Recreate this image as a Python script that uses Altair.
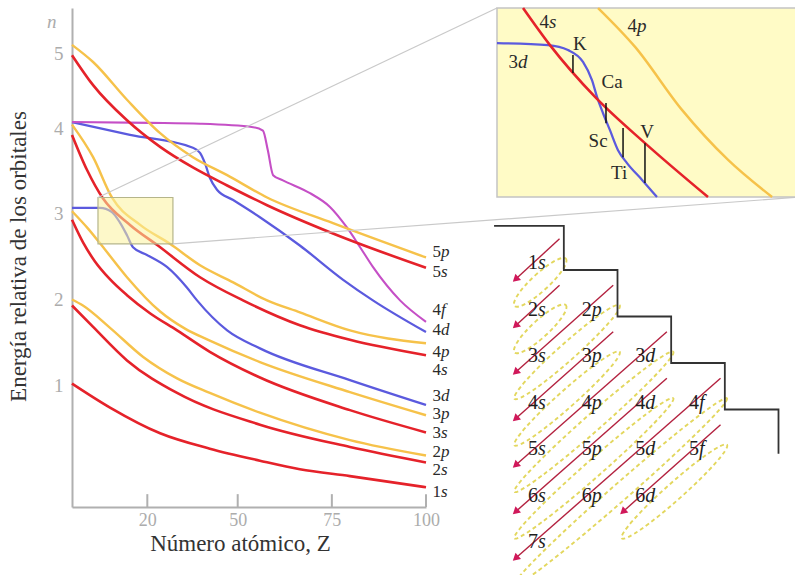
import math
import altair as alt
import pandas as pd

SERIF = "Liberation Serif"
RED, ORANGE, BLUE, MAGENTA = "#e5222a", "#f6c24a", "#5b5ade", "#c54fc6"

# ---------------- orbital energies: Z = atomic number, E = relative energy (n units) ----------------
z_1s = [6, 16.1, 29.4, 42.6, 55.9, 66.5, 79.8, 100]
e_1s = [1.02, 0.74, 0.44, 0.26, 0.12, 0.02, -0.06, -0.19]

z_2s = [6, 11.6, 20.6, 33.9, 55.9, 79.8, 100]
e_2s = [1.93, 1.68, 1.29, 0.91, 0.54, 0.28, 0.10]

z_2p = [6, 8.9, 16.1, 24.9, 33.9, 42.6, 55.9, 79.8, 100]
e_2p = [2.00, 1.93, 1.67, 1.33, 1.08, 0.91, 0.68, 0.36, 0.18]

z_3s = [6, 9.0, 12.0, 16.0, 20.6, 26.7, 33.9, 42.6, 55.9, 79.8, 100]
e_3s = [2.93, 2.66, 2.45, 2.24, 2.05, 1.84, 1.64, 1.39, 1.09, 0.71, 0.45]

z_3p = [6, 10.2, 14.8, 20.6, 29.4, 36.0, 42.6, 55.9, 79.8, 100]
e_3p = [3.03, 2.83, 2.58, 2.26, 1.86, 1.66, 1.52, 1.27, 0.92, 0.65]

z_3d = [6, 13.4, 16.6, 18.7, 20.6, 22.2, 25.9, 31.2, 36.5, 39.2, 47.2, 55.9, 79.8, 100]
e_3d = [3.07, 3.07, 3.02, 2.90, 2.75, 2.61, 2.52, 2.38, 2.14, 1.99, 1.64, 1.43, 1.06, 0.77]

z_4s = [6, 10.0, 14.2, 21.4, 28.8, 40.0, 51.4, 66.5, 79.8, 100]
e_4s = [3.92, 3.51, 3.18, 2.87, 2.63, 2.26, 1.99, 1.70, 1.53, 1.35]

z_4p = [6, 11.6, 16.6, 24.1, 32.0, 40.0, 48.8, 57.8, 66.5, 79.8, 100]
e_4p = [4.04, 3.66, 3.19, 2.87, 2.65, 2.40, 2.20, 1.99, 1.85, 1.64, 1.49]

z_4d = [6, 21.4, 38.1, 40.0, 41.3, 42.6, 44.5, 48.8, 55.9, 66.5, 78.0, 85.9, 100]
e_4d = [4.07, 3.92, 3.77, 3.71, 3.59, 3.42, 3.28, 3.16, 2.96, 2.63, 2.23, 1.99, 1.62]

z_4f = [6, 26.7, 40.0, 54.1, 56.7, 58.0, 59.4, 62.0, 69.2, 74.5, 79.0, 82.5, 85.9, 93.1, 100]
e_4f = [4.07, 4.06, 4.05, 4.01, 3.97, 3.74, 3.45, 3.39, 3.24, 3.08, 2.84, 2.61, 2.38, 1.99, 1.74]

z_5s = [6, 11.6, 20.6, 29.4, 38.1, 47.2, 57.8, 75.3, 100]
e_5s = [4.85, 4.50, 4.09, 3.78, 3.54, 3.33, 3.10, 2.77, 2.37]

z_5p = [6, 11.6, 20.6, 29.4, 38.1, 47.2, 57.8, 75.3, 100]
e_5p = [4.97, 4.77, 4.33, 3.94, 3.66, 3.45, 3.19, 2.89, 2.49]

# labels at the right-hand end of the curves
end_label_orbitals = ["5p", "5s", "4f", "4d", "4p", "4s", "3d", "3p", "3s", "2p", "2s", "1s"]
end_label_E = [2.55, 2.32, 1.88, 1.64, 1.39, 1.18, 0.88, 0.67, 0.44, 0.22, 0.01, -0.25]

# axes
x_tick_values = [26, 50, 75, 100]
x_tick_labels = ["20", "50", "75", "100"]
y_tick_values = [1, 2, 3, 4, 4.87, 5.24]
y_tick_labels = ["1", "2", "3", "4", "5", "n"]

# region magnified in the inset
zoom_Z = [12.9, 32.8]
zoom_E = [2.65, 3.19]

# ---------------- magnified view of the 3d / 4s crossing ----------------
inset_z_4s = [14.61, 16.38, 19.34, 22.62, 26.76]
inset_e_4s = [3.19, 3.084, 2.936, 2.804, 2.65]
inset_z_4p = [19.54, 21.97, 25.05, 28.08, 30.97]
inset_e_4p = [3.19, 3.079, 2.899, 2.756, 2.65]
inset_z_3d = [12.9, 16.25, 17.56, 18.55, 19.14, 19.47, 19.86, 20.32, 20.85, 21.44, 22.43, 23.41]
inset_e_3d = [3.09, 3.084, 3.07, 3.036, 2.984, 2.936, 2.89, 2.841, 2.784, 2.747, 2.699, 2.65]

element_names = ["K", "Ca", "Sc", "V"]
element_Z = [17.89, 20.06, 21.18, 22.62]
element_E_low = [3.004, 2.861, 2.764, 2.69]
element_E_high = [3.056, 2.919, 2.847, 2.804]

inset_text = ["K", "Ca", "Sc", "Ti", "V"]
inset_text_Z = [18.35, 20.46, 19.54, 20.92, 22.76]
inset_text_E = [3.087, 2.979, 2.81, 2.719, 2.836]

inset_orb_labels = ["4s", "4p", "3d"]
inset_orb_Z = [16.25, 22.03, 14.21]
inset_orb_E = [3.15, 3.139, 3.036]

# ---------------- filling-order diagram ----------------
diag_orbitals = ["1s", "2s", "2p", "3s", "3p", "3d", "4s", "4p", "4d", "4f",
                 "5s", "5p", "5d", "5f", "6s", "6p", "6d", "7s"]
stair_col = [-0.8, 0.5, 0.5, 1.5, 1.5, 2.5, 2.5, 3.5, 3.5, 4.5, 4.5]
stair_row = [0.2, 0.2, 1.15, 1.15, 2.15, 2.15, 3.15, 3.15, 4.15, 4.15, 5.1]

# ---------------- layout ----------------
PLOT_W, PLOT_H = 354, 499
Z_DOMAIN = [6, 100]
E_DOMAIN = [-0.42, 5.40]


def px_x(z):
    return (z - Z_DOMAIN[0]) / (Z_DOMAIN[1] - Z_DOMAIN[0]) * PLOT_W


def px_y(e):
    return (E_DOMAIN[1] - e) / (E_DOMAIN[1] - E_DOMAIN[0]) * PLOT_H


# the inset panel's corners, in the main chart's units
INSET_Z = [118.85, 199.3]
INSET_E = [3.195, 5.40]

DIAG_X_RANGE = [465, 626]   # columns s..f
DIAG_Y_RANGE = [255, 534]   # rows n = 1..7
CELL_W = (DIAG_X_RANGE[1] - DIAG_X_RANGE[0]) / 3
CELL_H = (DIAG_Y_RANGE[1] - DIAG_Y_RANGE[0]) / 6

main_x = alt.Scale(domain=Z_DOMAIN, nice=False, zero=False)
main_y = alt.Scale(domain=E_DOMAIN, nice=False, zero=False)
inset_x = alt.Scale(domain=zoom_Z, range=[px_x(INSET_Z[0]), px_x(INSET_Z[1])], nice=False, zero=False)
inset_y = alt.Scale(domain=zoom_E, range=[px_y(INSET_E[0]), px_y(INSET_E[1])], nice=False, zero=False)
diag_x = alt.Scale(domain=[0, 3], range=DIAG_X_RANGE, nice=False, zero=False)
diag_y = alt.Scale(domain=[1, 7], range=DIAG_Y_RANGE, nice=False, zero=False)

kind_color = alt.Scale(domain=["s", "p", "d", "f"], range=[RED, ORANGE, BLUE, MAGENTA])
kind_width = alt.Scale(domain=["s", "p", "d", "f"], range=[2.6, 2.1, 1.6, 1.6])


def label_expr(values, labels):
    expr = "datum.label"
    for v, t in reversed(list(zip(values, labels))):
        expr = f"abs(datum.value - {v}) < 1e-6 ? '{t}' : ({expr})"
    return expr


def enc(field, scale):
    return alt.X(field, type="quantitative", scale=scale, axis=None)


def enc_y(field, scale):
    return alt.Y(field, type="quantitative", scale=scale, axis=None)


def split_text(df, xs, ys, dx, size, color="#2a2a2a"):
    """Orbital label: upright digit followed by italic letter."""
    base = alt.Chart(df).encode(x=enc("X", xs), y=enc_y("Y", ys))
    digit = base.mark_text(align="right", baseline="middle", dx=dx, font=SERIF,
                           fontSize=size, color=color).encode(text="digit:N")
    letter = base.mark_text(align="left", baseline="middle", dx=dx, font=SERIF,
                            fontSize=size, fontStyle="italic", color=color).encode(text="letter:N")
    return [digit, letter]


# ---------------- main chart ----------------
series = {"1s": (z_1s, e_1s), "2s": (z_2s, e_2s), "2p": (z_2p, e_2p), "3s": (z_3s, e_3s),
          "3p": (z_3p, e_3p), "3d": (z_3d, e_3d), "4s": (z_4s, e_4s), "4p": (z_4p, e_4p),
          "4d": (z_4d, e_4d), "4f": (z_4f, e_4f), "5s": (z_5s, e_5s), "5p": (z_5p, e_5p)}
curve_rows = []
for orb, (zs, es) in series.items():
    for z, e in zip(zs, es):
        curve_rows.append({"orb": orb, "kind": orb[1], "Z": z, "E": e})
curves_df = pd.DataFrame(curve_rows)

x_axis = alt.Axis(
    values=x_tick_values, labelExpr=label_expr(x_tick_values, x_tick_labels),
    title="Número atómico, Z", titleFont=SERIF, titleFontSize=23, titleFontWeight="normal",
    titleColor="#333333", titleX=168, titleY=36, titleAlign="center", titleBaseline="middle",
    labelFont=SERIF, labelFontSize=18, labelColor="#acacac", labelPadding=4,
    ticks=False, grid=False, domainColor="#b0b0b0", domainWidth=2,
    labelOverlap=False, labelBound=False, labelFlush=False,
)
y_axis = alt.Axis(
    values=y_tick_values, labelExpr=label_expr(y_tick_values, y_tick_labels),
    title="Energía relativa de los orbitales", titleFont=SERIF, titleFontSize=23,
    titleFontWeight="normal", titleColor="#333333", titleX=-54, titleY=248,
    titleAlign="center", titleBaseline="middle",
    labelFont=SERIF, labelFontSize=19, labelColor="#acacac",
    labelFontStyle={"condition": {"test": "datum.value > 5", "value": "italic"}, "value": "normal"},
    labelPadding={"condition": {"test": "datum.value > 5", "value": 16}, "value": 9},
    ticks=False, grid=False, domainColor="#b0b0b0", domainWidth=2,
    labelOverlap=False, labelBound=False, labelFlush=False,
)

curves = alt.Chart(curves_df).mark_line(interpolate="monotone").encode(
    x=alt.X("Z:Q", scale=main_x, axis=x_axis),
    y=alt.Y("E:Q", scale=main_y, axis=y_axis),
    detail="orb:N",
    color=alt.Color("kind:N", scale=kind_color, legend=None),
    strokeWidth=alt.StrokeWidth("kind:N", scale=kind_width, legend=None),
)

ticks_df = pd.DataFrame({"Z": x_tick_values, "E0": E_DOMAIN[0], "E1": E_DOMAIN[0] + 0.15})
x_ticks = alt.Chart(ticks_df).mark_rule(color="#b0b0b0", strokeWidth=2).encode(
    x=enc("Z", main_x), y=enc_y("E0", main_y), y2="E1")

end_df = pd.DataFrame({"X": 100, "Y": end_label_E,
                       "digit": [o[0] for o in end_label_orbitals],
                       "letter": [o[1] for o in end_label_orbitals]})
end_labels = split_text(end_df, main_x, main_y, dx=15, size=17)

zoom_df = pd.DataFrame({"Z0": [zoom_Z[0]], "Z1": [zoom_Z[1]], "E0": [zoom_E[0]], "E1": [zoom_E[1]]})
zoom_box = alt.Chart(zoom_df).mark_rect(fill="#fbf39c", fillOpacity=0.55, stroke="#b5b58a",
                                        strokeWidth=1.2).encode(
    x=enc("Z0", main_x), x2="Z1", y=enc_y("E0", main_y), y2="E1")

conn_df = pd.DataFrame({"Z0": [zoom_Z[0], zoom_Z[1]], "E0": [zoom_E[1], zoom_E[0]],
                        "Z1": [INSET_Z[0], INSET_Z[1]], "E1": [INSET_E[1], INSET_E[0]]})
connectors = alt.Chart(conn_df).mark_rule(color="#c9c9c9", strokeWidth=1.2).encode(
    x=enc("Z0", main_x), x2="Z1", y=enc_y("E0", main_y), y2="E1")

main_layers = [curves, x_ticks, *end_labels, zoom_box, connectors]

# ---------------- inset ----------------
inset_bg = alt.Chart(zoom_df).mark_rect(fill="#fffbc6", stroke="#c4c4c4", strokeWidth=1.5).encode(
    x=enc("Z0", inset_x), x2="Z1", y=enc_y("E0", inset_y), y2="E1")

inset_rows = []
for orb, zs, es in [("4p", inset_z_4p, inset_e_4p), ("3d", inset_z_3d, inset_e_3d),
                    ("4s", inset_z_4s, inset_e_4s)]:
    for z, e in zip(zs, es):
        inset_rows.append({"orb": orb, "kind": orb[1], "Z": z, "E": e})
inset_lines = alt.Chart(pd.DataFrame(inset_rows)).mark_line(interpolate="monotone").encode(
    x=enc("Z", inset_x), y=enc_y("E", inset_y), detail="orb:N",
    color=alt.Color("kind:N", scale=kind_color, legend=None),
    strokeWidth=alt.StrokeWidth("kind:N", scale=kind_width, legend=None),
)

elem_df = pd.DataFrame({"el": element_names, "Z": element_Z, "E0": element_E_low, "E1": element_E_high})
elem_ticks = alt.Chart(elem_df).mark_rule(color="#111111", strokeWidth=1.5).encode(
    x=enc("Z", inset_x), y=enc_y("E0", inset_y), y2="E1")

itext_df = pd.DataFrame({"t": inset_text, "Z": inset_text_Z, "E": inset_text_E})
inset_words = alt.Chart(itext_df).mark_text(font=SERIF, fontSize=19, color="#2a2a2a",
                                            align="center", baseline="middle").encode(
    x=enc("Z", inset_x), y=enc_y("E", inset_y), text="t:N")

iorb_df = pd.DataFrame({"X": inset_orb_Z, "Y": inset_orb_E,
                        "digit": [o[0] for o in inset_orb_labels],
                        "letter": [o[1] for o in inset_orb_labels]})
inset_orbs = split_text(iorb_df, inset_x, inset_y, dx=1, size=19)

inset_layers = [inset_bg, inset_lines, elem_ticks, inset_words, *inset_orbs]

# ---------------- filling-order diagram ----------------
cells = pd.DataFrame({
    "X": ["spdf".index(o[1]) for o in diag_orbitals],
    "Y": [int(o[0]) for o in diag_orbitals],
    "digit": [o[0] for o in diag_orbitals],
    "letter": [o[1] for o in diag_orbitals],
})
cells["k"] = cells["X"] + cells["Y"]

arrow_rows = []
for k in sorted(cells["k"].unique()):
    grp = cells[cells["k"] == k]
    top = grp.loc[grp["X"].idxmax()]
    bot = grp.loc[grp["X"].idxmin()]
    c0, r0 = top["X"] + 0.42, top["Y"] - 0.52
    c1, r1 = bot["X"] - 0.40, bot["Y"] + 0.35
    dxp, dyp = (c1 - c0) * CELL_W, (r1 - r0) * CELL_H
    length = math.hypot(dxp, dyp)
    a = (length / 2 + 5) / 10.0
    b = 0.85
    kk = 0.5523
    path = (f"M {a:.3f} 0 C {a:.3f} {kk*b:.3f} {kk*a:.3f} {b:.3f} 0 {b:.3f} "
            f"C {-kk*a:.3f} {b:.3f} {-a:.3f} {kk*b:.3f} {-a:.3f} 0 "
            f"C {-a:.3f} {-kk*b:.3f} {-kk*a:.3f} {-b:.3f} 0 {-b:.3f} "
            f"C {kk*a:.3f} {-b:.3f} {a:.3f} {-kk*b:.3f} {a:.3f} 0 Z")
    arrow_rows.append({
        "c0": c0, "r0": r0, "c1": c1, "r1": r1,
        "head_angle": math.degrees(math.atan2(dxp, -dyp)) % 360,
        "ell_angle": math.degrees(math.atan2(-dyp, -dxp)) % 360,
        "ec": (c0 + c1) / 2 + 0.05, "er": (r0 + r1) / 2 + 0.5,
        "path": path,
    })
arrows_df = pd.DataFrame(arrow_rows)

ellipses = alt.Chart(arrows_df).mark_point(filled=False, strokeDash=[4, 3], strokeWidth=1.9,
                                           color="#e3d75e", size=400, opacity=1).encode(
    x=enc("ec", diag_x), y=enc_y("er", diag_y),
    shape=alt.Shape("path:N", scale=None),
    angle=alt.Angle("ell_angle:Q", scale=None),
)
arrow_lines = alt.Chart(arrows_df).mark_rule(color="#b3213f", strokeWidth=1.4).encode(
    x=enc("c0", diag_x), y=enc_y("r0", diag_y), x2="c1", y2="r1")
arrow_heads = alt.Chart(arrows_df).mark_point(shape="triangle-up", filled=True, size=70,
                                              color="#d0185a", opacity=1).encode(
    x=enc("c1", diag_x), y=enc_y("r1", diag_y),
    angle=alt.Angle("head_angle:Q", scale=None),
)
stair_df = pd.DataFrame({"col": stair_col, "row": stair_row, "i": range(len(stair_col))})
stairs = alt.Chart(stair_df).mark_line(color="#333333", strokeWidth=1.8).encode(
    x=enc("col", diag_x), y=enc_y("row", diag_y), order="i:Q")
cell_labels = split_text(cells, diag_x, diag_y, dx=1, size=20, color="#1e1e1e")

diagram_layers = [ellipses, arrow_lines, arrow_heads, stairs, *cell_labels]

chart = alt.layer(*main_layers, *inset_layers, *diagram_layers).resolve_scale(
    x="independent", y="independent"
).properties(
    width=PLOT_W, height=PLOT_H,
    padding={"left": 72, "top": 8, "right": 369, "bottom": 68},
    autosize=alt.AutoSizeParams(type="none"),
    background="white",
).configure_view(stroke=None)

chart.save("out.html", embed_options={"renderer": "svg", "actions": False})
